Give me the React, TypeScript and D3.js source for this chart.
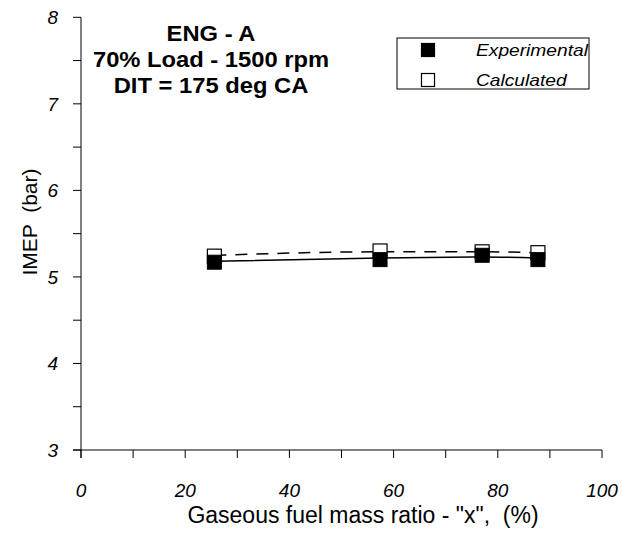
import React, { useEffect, useRef } from 'react';
import * as d3 from 'd3';

const xValues = [25.6, 57.4, 77, 87.7];
const experimental = [5.17, 5.2, 5.25, 5.2];
const calculated = [5.24, 5.3, 5.29, 5.28];
// trend lines at the same x positions
const expTrend = [5.18, 5.22, 5.23, 5.22];
const calcTrend = [5.25, 5.29, 5.29, 5.28];

const xTicks = [0, 20, 40, 60, 80, 100];
const xMinor = [10, 30, 50, 70, 90];
const yTicks = [3, 4, 5, 6, 7, 8];
const yMinor = [3.5, 4.5, 5.5, 6.5, 7.5];
const titleLines = ['ENG - A', '70% Load - 1500 rpm', 'DIT = 175 deg CA'];
const legendItems = [
  { label: 'Experimental', filled: true },
  { label: 'Calculated', filled: false },
];

const FONT = 'Arial, "Liberation Sans", sans-serif';

const App: React.FC = () => {
  const svgRef = useRef<SVGSVGElement | null>(null);

  useEffect(() => {
    if (!svgRef.current) return;
    const svg = d3.select(svgRef.current);
    svg.selectAll('*').remove();

    const x = d3.scaleLinear().domain([0, 100]).range([81, 602]);
    const y = d3.scaleLinear().domain([3, 8]).range([450, 17.3]);

    const g = svg.append('g').attr('font-family', FONT);

    // y axis
    g.append('line')
      .attr('x1', x(0)).attr('x2', x(0))
      .attr('y1', y(8)).attr('y2', y(3) + 8)
      .attr('stroke', '#000').attr('stroke-width', 1);
    g.selectAll('.ytick')
      .data([...yTicks, ...yMinor])
      .enter().append('line')
      .attr('x1', x(0) - 8).attr('x2', x(0))
      .attr('y1', d => y(d)).attr('y2', d => y(d))
      .attr('stroke', '#000');
    g.selectAll('.ylab')
      .data(yTicks)
      .enter().append('text')
      .attr('x', 58).attr('y', d => y(d) + 7)
      .attr('text-anchor', 'end')
      .attr('font-size', 19).attr('font-style', 'italic')
      .text(d => d);

    // x axis
    g.append('line')
      .attr('x1', x(0) - 8).attr('x2', x(100))
      .attr('y1', y(3)).attr('y2', y(3))
      .attr('stroke', '#000');
    g.selectAll('.xtick')
      .data([...xTicks, ...xMinor])
      .enter().append('line')
      .attr('x1', d => x(d)).attr('x2', d => x(d))
      .attr('y1', y(3)).attr('y2', y(3) + 8)
      .attr('stroke', '#000');
    g.selectAll('.xlab')
      .data(xTicks)
      .enter().append('text')
      .attr('x', d => x(d)).attr('y', 497)
      .attr('text-anchor', 'middle')
      .attr('font-size', 19).attr('font-style', 'italic')
      .text(d => d);

    g.append('text')
      .attr('x', 363).attr('y', 523)
      .attr('text-anchor', 'middle').attr('font-size', 23)
      .style('white-space', 'pre')
      .text('Gaseous fuel mass ratio - "x",  (%)');

    g.append('text')
      .attr('transform', `translate(37, 222) rotate(-90)`)
      .attr('text-anchor', 'middle').attr('font-size', 21)
      .style('white-space', 'pre')
      .text('IMEP  (bar)');

    // title
    g.selectAll('.title')
      .data(titleLines)
      .enter().append('text')
      .attr('transform', (d, i) => `translate(211, ${41 + i * 26}) scale(1.08, 1)`)
      .attr('text-anchor', 'middle')
      .attr('font-size', 22).attr('font-weight', 'bold')
      .text(d => d);

    // trend lines
    const line = d3.line<number>()
      .x((d, i) => x(xValues[i]))
      .y(d => y(d))
      .curve(d3.curveMonotoneX);

    g.append('path')
      .attr('d', line(calcTrend))
      .attr('fill', 'none').attr('stroke', '#000').attr('stroke-width', 1.5)
      .attr('stroke-dasharray', '12,9');
    g.append('path')
      .attr('d', line(expTrend))
      .attr('fill', 'none').attr('stroke', '#000').attr('stroke-width', 1.5);

    const s = 14;
    g.selectAll('.calc')
      .data(calculated)
      .enter().append('rect')
      .attr('x', (d, i) => x(xValues[i]) - s / 2)
      .attr('y', d => y(d) - s / 2)
      .attr('width', s).attr('height', s)
      .attr('fill', '#fff').attr('stroke', '#000').attr('stroke-width', 1.2);
    g.selectAll('.exp')
      .data(experimental)
      .enter().append('rect')
      .attr('x', (d, i) => x(xValues[i]) - s / 2)
      .attr('y', d => y(d) - s / 2)
      .attr('width', s).attr('height', s)
      .attr('fill', '#000').attr('stroke', '#000').attr('stroke-width', 1);

    // legend
    const lg = g.append('g');
    lg.append('rect')
      .attr('x', 397).attr('y', 38).attr('width', 192).attr('height', 51)
      .attr('fill', '#fff').attr('stroke', '#000').attr('stroke-width', 1);
    legendItems.forEach((item, i) => {
      const cy = 50 + i * 30;
      lg.append('rect')
        .attr('x', 421.5).attr('y', cy - 6.5).attr('width', 13).attr('height', 13)
        .attr('fill', item.filled ? '#000' : '#fff')
        .attr('stroke', '#000').attr('stroke-width', 1.2);
      lg.append('text')
        .attr('transform', `translate(476, ${cy + 5.5}) scale(1.2, 1)`)
        .attr('font-size', 16).attr('font-style', 'italic')
        .text(item.label);
    });
  }, []);

  return (
    <svg
      ref={svgRef}
      width={622}
      height={538}
      style={{ position: 'absolute', left: 0, top: 0, background: '#fff' }}
    />
  );
};

export default App;
